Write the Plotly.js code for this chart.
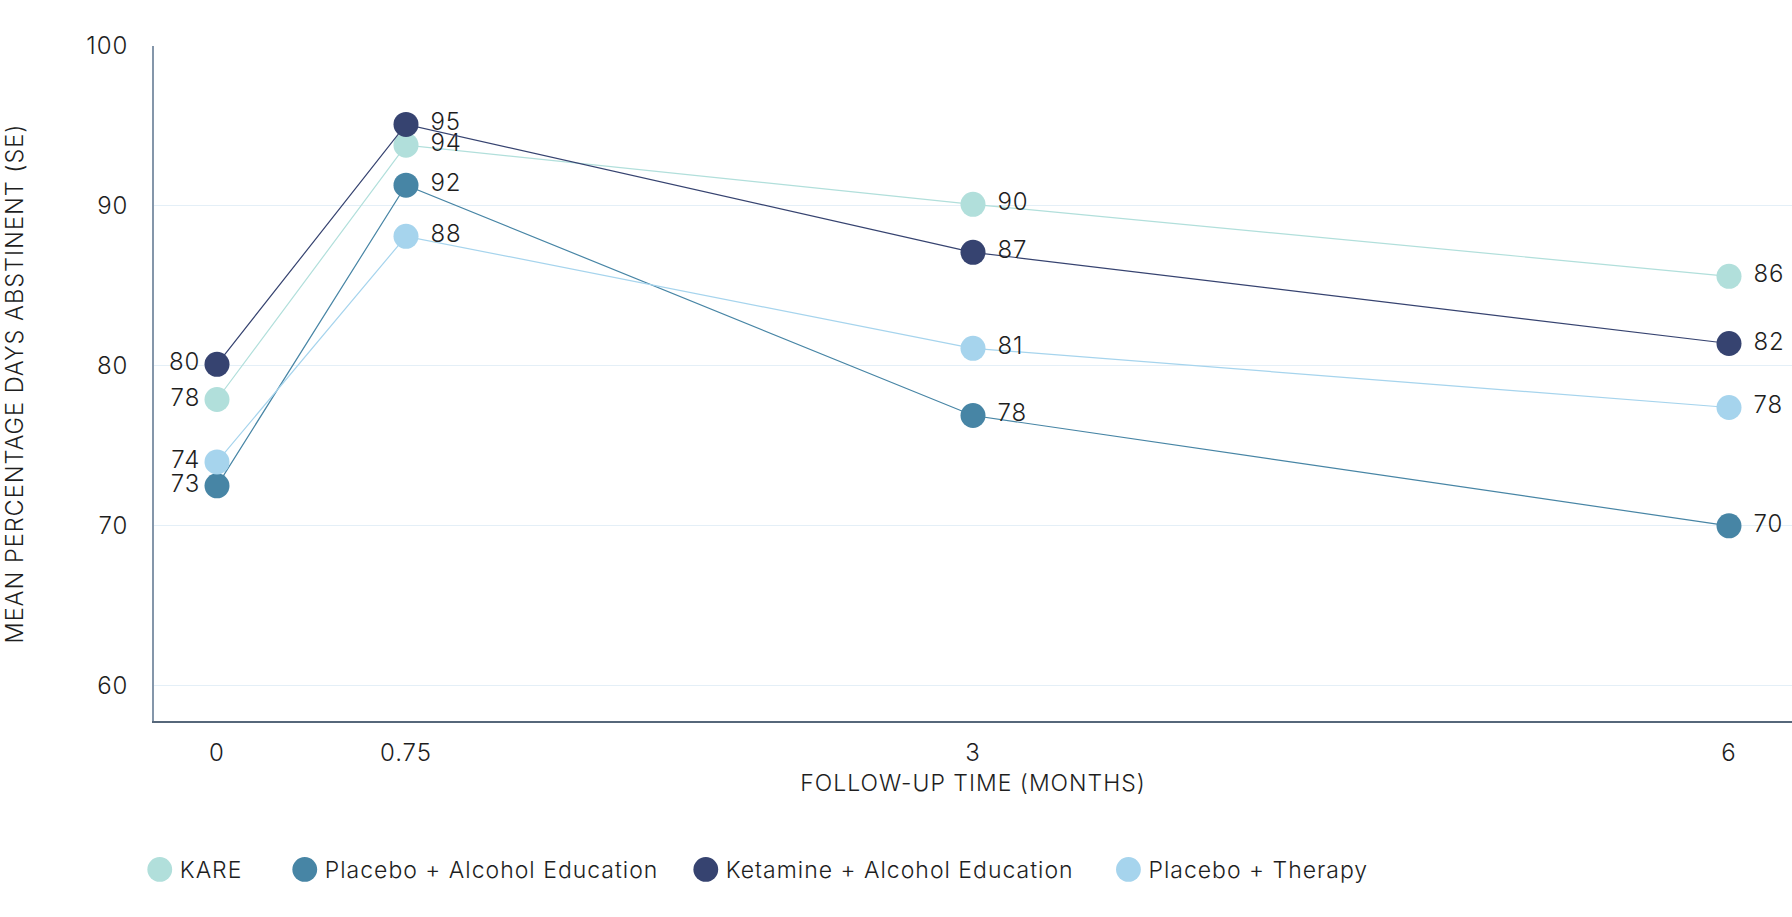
<!DOCTYPE html>
<html>
<head>
<meta charset="utf-8">
<script src="https://cdn.plot.ly/plotly-3.0.1.min.js"></script>
<style>
  html, body { margin: 0; padding: 0; background: #fff; }
  #chart { width: 1792px; height: 917px; }
  text { letter-spacing: 1px; }
  /* plotly caps legend markers at 16px, the key in the original is bigger */
  .legendpoints path.scatterpts { transform: translate(20px, 0px) scale(1.55); }
</style>
</head>
<body>
<div id="chart"></div>
<script>
// follow-up time in months
var months = [0, 0.75, 3, 6];
var tickText = ['0', '0.75', '3', '6'];

// mean % days abstinent
var kare = [77.9, 93.8, 90.1, 85.6];
var placeboEdu = [72.5, 91.3, 76.9, 70.0];
var ketamineEdu = [80.1, 95.1, 87.1, 81.4];
var placeboTherapy = [74.0, 88.1, 81.1, 77.4];

// printed labels next to the points
var kareLabels = ['78', '94', '90', '86'];
var placeboEduLabels = ['73', '92', '78', '70'];
var ketamineEduLabels = ['80', '95', '87', '82'];
var placeboTherapyLabels = ['74', '88', '81', '78'];

var names = ['KARE', 'Placebo + Alcohol Education', 'Ketamine + Alcohol Education', 'Placebo + Therapy'];
var colors = ['#b1dfdb', '#4785a5', '#364370', '#a6d4ed'];

var labelPos = ['middle left', 'middle right', 'middle right', 'middle right'];
var keyPad = [5, 3, 4, 0]; // trailing spaces so the legend entries spread like the original

// pad right-hand labels a little away from the big markers
function pad(labels) {
  return labels.map(function (t, i) { return i === 0 ? t : '\u00a0' + t; });
}

function series(i, y, labels) {
  return {
    x: months,
    y: y,
    name: names[i],
    type: 'scatter',
    mode: 'lines+markers+text',
    text: pad(labels),
    textposition: labelPos,
    textfont: { size: 24, color: '#1e1e1e' },
    line: { color: colors[i], width: 1.2 },
    marker: { color: colors[i], size: 25 },
    cliponaxis: false,
    showlegend: false,
    hoverinfo: 'x+y+name'
  };
}

// marker-only entries for the legend (no line segment in the key)
function key(i) {
  return {
    x: [null],
    y: [null],
    name: names[i] + '\u00a0'.repeat(keyPad[i]),
    type: 'scatter',
    mode: 'markers',
    marker: { color: colors[i], size: 25 },
    hoverinfo: 'skip'
  };
}

var data = [
  series(0, kare, kareLabels),
  series(1, placeboEdu, placeboEduLabels),
  series(2, ketamineEdu, ketamineEduLabels),
  series(3, placeboTherapy, placeboTherapyLabels),
  key(0), key(1), key(2), key(3)
];

var layout = {
  width: 1792,
  height: 917,
  margin: { l: 154, r: 0, t: 46, b: 196 },
  paper_bgcolor: '#fff',
  plot_bgcolor: '#fff',
  font: { family: 'Inter, "Liberation Sans", sans-serif', size: 23, color: '#1e1e1e', weight: 300 },
  showlegend: true,
  legend: {
    orientation: 'h',
    x: -0.0087,
    xanchor: 'left',
    y: -0.22,
    yanchor: 'middle',
    font: { size: 23, color: '#1e1e1e', weight: 300 },
    itemsizing: 'trace'
  },
  xaxis: {
    range: [-0.25, 6.25],
    tickvals: months,
    ticktext: tickText,
    tickfont: { size: 24 },
    showgrid: false,
    zeroline: false,
    showline: true,
    linecolor: '#56677a',
    linewidth: 1.5,
    ticks: '',
    ticklabelstandoff: 9,
    title: { text: 'FOLLOW-UP TIME (MONTHS)', font: { size: 23 }, standoff: 9 }
  },
  yaxis: {
    range: [57.8, 100],
    tickvals: [60, 70, 80, 90, 100],
    tickfont: { size: 24 },
    showgrid: true,
    gridcolor: '#e4eff7',
    zeroline: false,
    showline: true,
    linecolor: '#8496aa',
    linewidth: 1.5,
    ticks: '',
    ticklabelstandoff: 19,
    title: { text: 'MEAN PERCENTAGE DAYS ABSTINENT (SE)', font: { size: 23.5 }, standoff: 58 }
  }
};

Plotly.newPlot('chart', data, layout, { displayModeBar: false });
</script>
</body>
</html>
